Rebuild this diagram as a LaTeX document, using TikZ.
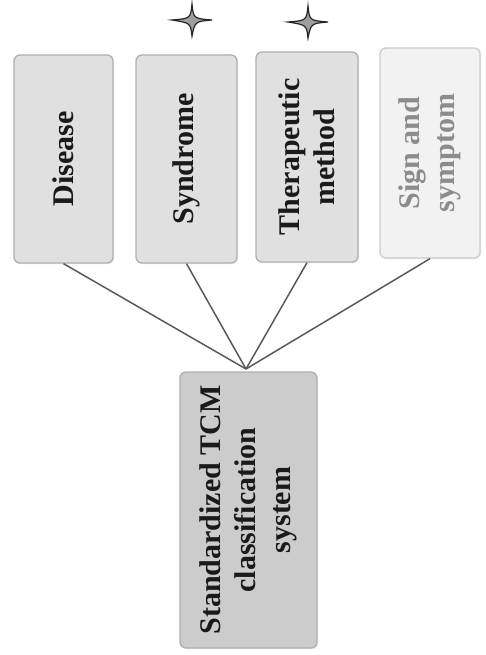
\documentclass[tikz,border=0pt]{standalone}
\usepackage{fontspec}
\setmainfont{Liberation Serif}
\usetikzlibrary{shadows}
\definecolor{txt}{HTML}{1A1A1A}
\definecolor{edge}{HTML}{B0B0B0}
\definecolor{wire}{HTML}{5A5A5A}
\tikzset{
  catbox/.style={rectangle, rounded corners=6pt, rotate=90, draw=edge, line width=1.3pt,
    fill=black!12, text=txt, align=center,
    font=\fontsize{30}{35}\selectfont\bfseries, inner sep=2pt,
    drop shadow={opacity=0.15, shadow xshift=1.2pt, shadow yshift=-1.2pt}},
  fadebox/.style={catbox, draw=black!20, fill=black!5, text=black!45},
  rootbox/.style={catbox, fill=black!20},
  wireline/.style={draw=wire, line width=1.5pt},
  sparkle/.pic={\draw[fill=black!38, draw=black!85, line width=1.2pt]
    (20,0) .. controls (3,1.5) .. (0,16) .. controls (-1.5,3) .. (-20,0)
    .. controls (-1.5,-1.5) .. (0,-16) .. controls (1.5,-1.5) .. cycle;}
}
\begin{document}
\begin{tikzpicture}[x=1pt, y=-1pt]
\useasboundingbox[fill=white] (0,0) rectangle (485,655);
\node[catbox, minimum width=208pt, minimum height=99pt] (dis) at (63.5,159) {Disease};
\node[catbox, minimum width=208pt, minimum height=101pt] (syn) at (186.5,159) {Syndrome};
\node[catbox, minimum width=210pt, minimum height=102pt] (ther) at (307,157) {Therapeutic\\method};
\node[fadebox, minimum width=210pt, minimum height=100pt] (sign) at (430,153) {Sign and\\symptom};
\node[rootbox, minimum width=276pt, minimum height=137pt] (tcm) at (248.5,510) {Standardized TCM\\classification\\system};
\coordinate (hub) at (246,369);
\draw[wireline] (dis.west) -- (hub);
\draw[wireline] (syn.west) -- (hub);
\draw[wireline] (ther.west) -- (hub);
\draw[wireline] (sign.west) -- (hub);
\pic at (192,20) {sparkle};
\pic at (308,22) {sparkle};
\end{tikzpicture}
\end{document}
